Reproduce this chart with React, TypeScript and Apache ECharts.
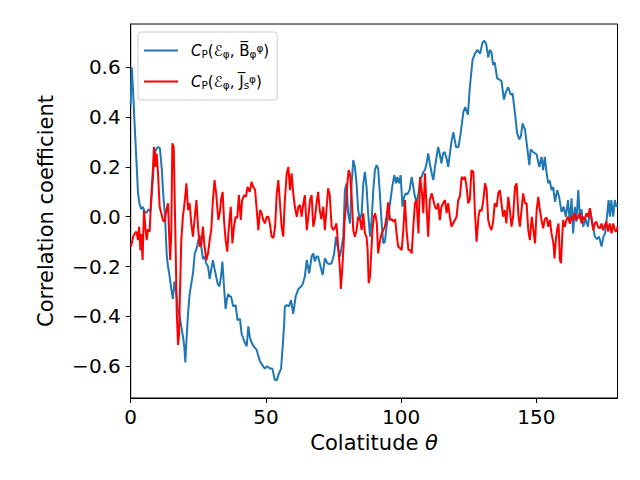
import React, { useEffect, useRef } from "react";
import * as echarts from "echarts";

const blueTheta = [0,0.4,0.9,1.5,2.1,2.7,3.3,3.9,4.5,5.2,5.8,6.6,7.3,7.9,8.4,9.0,9.6,10.2,10.8,11.5,12.0,12.7,13.3,13.8,14.4,15.0,15.6,16.2,16.8,17.4,18.1,18.7,19.3,19.8,20.2,20.7,21.2,21.8,22.4,23.0,23.7,24.3,24.9,25.5,26.1,26.7,27.3,28.0,28.6,29.2,29.8,30.4,31.0,31.6,32.2,32.8,33.4,33.9,34.5,35.1,35.6,36.1,36.6,37.1,37.9,38.8,39.5,40.4,41.0,42.0,42.9,43.5,44.0,44.5,45.4,46.6,47.2,47.8,48.6,49.6,50.5,51.5,52.4,53.3,54.0,54.8,55.6,56.2,56.7,57.0,57.7,58.5,59.3,60.1,61.0,62.0,63.0,63.6,64.4,65.1,66.0,66.9,67.5,68.1,68.7,69.3,70.2,71.0,71.8,72.7,73.5,74.3,75.2,75.9,76.5,77.4,78.0,78.6,79.2,79.8,80.4,81.1,81.7,82.3,82.9,83.5,84.1,84.8,85.4,86.0,86.6,87.2,87.8,88.5,89.1,89.7,90.3,90.9,91.5,92.2,92.8,93.4,94.0,94.6,95.2,95.9,96.7,97.5,98.1,98.6,99.2,99.8,100.5,101.1,101.7,102.3,103.1,103.9,104.5,105.1,105.7,106.4,107.0,107.6,108.2,108.8,109.4,110.0,110.6,111.3,111.9,112.5,113.1,113.7,114.3,114.9,115.5,116.1,116.8,117.4,118.1,118.6,119.3,120.3,121.2,122.0,123.0,123.7,124.7,125.4,126.4,127.3,128.2,129.2,130.0,130.6,131.4,132.2,132.8,133.4,134.0,134.6,135.5,136.5,137.1,138.0,138.7,139.6,140.5,141.2,142.1,142.9,143.7,144.3,144.9,145.8,146.6,147.4,147.9,148.8,150.1,151.1,151.9,152.5,153.1,153.8,154.4,155.0,155.6,156.2,156.9,157.7,158.4,159.3,160.1,160.9,161.7,162.4,163.0,163.6,164.2,164.8,165.5,166.1,166.7,167.3,168.2,169.1,169.8,171.0,171.6,172.4,173.2,174.1,174.8,175.4,176.1,176.7,177.2,177.7,178.4,179.0,179.6,180];
const blueCorr = [0.45,0.60,0.50,0.36,0.23,0.095,0.05,0.03,0.04,0.02,0.015,0.03,0.02,0.10,0.19,0.26,0.275,0.28,0.275,0.19,0.095,0.0,-0.15,-0.20,-0.24,-0.29,-0.33,-0.26,-0.30,-0.37,-0.40,-0.44,-0.48,-0.52,-0.585,-0.48,-0.39,-0.31,-0.27,-0.23,-0.147,-0.13,-0.10,-0.075,-0.12,-0.17,-0.16,-0.19,-0.20,-0.25,-0.21,-0.175,-0.21,-0.24,-0.27,-0.28,-0.24,-0.18,-0.28,-0.37,-0.33,-0.31,-0.32,-0.32,-0.36,-0.355,-0.415,-0.41,-0.47,-0.50,-0.52,-0.44,-0.48,-0.50,-0.52,-0.535,-0.56,-0.58,-0.595,-0.61,-0.60,-0.61,-0.61,-0.656,-0.656,-0.63,-0.61,-0.52,-0.44,-0.36,-0.355,-0.36,-0.335,-0.39,-0.32,-0.29,-0.28,-0.27,-0.24,-0.174,-0.227,-0.16,-0.147,-0.18,-0.16,-0.16,-0.2,-0.234,-0.167,-0.187,-0.19,-0.187,-0.15,-0.08,-0.12,-0.16,-0.12,-0.08,0.107,0.134,0.014,-0.027,0.134,0.228,0.2,0.134,0.027,-0.013,0.014,0.134,0.18,0.12,0.014,-0.08,-0.013,0.107,0.187,0.207,0.194,0.08,-0.027,-0.107,-0.1,-0.04,0.0,0.054,0.12,0.167,0.134,0.16,0.134,0.167,0.04,0.08,0.094,0.09,0.107,0.16,0.12,0.08,0.06,0.09,0.147,0.16,0.18,0.187,0.214,0.254,0.214,0.174,0.147,0.2,0.24,0.28,0.25,0.214,0.254,0.26,0.234,0.2,0.26,0.3,0.34,0.28,0.28,0.335,0.42,0.44,0.41,0.52,0.63,0.655,0.67,0.655,0.696,0.707,0.696,0.64,0.67,0.66,0.61,0.62,0.556,0.55,0.545,0.47,0.50,0.52,0.49,0.495,0.415,0.335,0.31,0.325,0.375,0.35,0.28,0.207,0.27,0.26,0.25,0.2,0.24,0.187,0.24,0.174,0.134,0.145,0.107,0.12,0.06,0.107,0.08,0.02,0.04,0.0,0.067,-0.027,0.074,-0.067,0.04,-0.02,0.107,-0.01,0.03,-0.04,-0.01,-0.04,0.03,-0.04,-0.08,-0.09,-0.08,-0.12,-0.08,-0.067,0.0,0.067,0.0,0.067,0.0,0.067,0.04,0.05];

const redTheta = [0,0.4,0.9,1.5,2.1,2.7,3.1,3.6,3.9,4.4,4.9,5.4,5.9,6.4,7.0,7.6,8.2,8.6,9.1,9.6,10.1,10.7,11.3,11.9,12.5,13.2,13.8,14.2,14.6,15.0,15.4,15.9,16.3,16.7,17.0,17.5,17.9,18.2,18.7,19.3,19.9,20.6,21.2,21.8,22.4,23.0,23.7,24.3,24.9,25.5,26.1,26.7,27.3,28.0,28.6,29.2,29.8,30.4,31.0,31.6,32.4,33.0,33.4,34.0,34.5,35.1,35.7,36.3,37.0,37.6,38.2,38.8,39.4,40.0,40.7,41.2,42.0,42.6,43.2,44.0,44.7,45.3,46.0,46.6,47.2,47.8,48.4,49.0,49.6,50.3,50.9,51.5,52.1,52.8,53.4,54.0,54.6,55.2,55.8,56.4,57.0,57.7,58.3,58.9,59.5,60.1,60.7,61.4,62.0,62.6,63.2,63.8,64.4,65.1,65.7,66.3,66.9,67.5,68.1,68.7,69.3,69.9,70.5,71.2,71.8,72.4,73.0,73.6,74.3,74.9,75.5,76.1,76.7,77.4,77.7,78.2,78.7,79.1,79.6,80.1,80.6,81.1,81.7,82.3,82.9,83.5,84.1,84.8,85.4,86.0,86.6,87.2,87.6,88.0,88.5,89.0,89.4,89.9,90.4,91.0,91.5,92.2,92.8,93.4,94.0,94.6,95.2,95.9,96.5,97.2,97.8,98.3,98.9,99.5,100.2,100.8,101.4,102.0,102.7,103.3,103.9,104.5,105.1,105.7,106.4,107.0,107.6,108.2,108.8,109.4,110.0,110.6,111.3,111.9,112.5,113.1,113.7,114.3,114.9,115.5,116.2,116.8,117.4,118.0,118.6,119.2,119.8,120.5,121.1,121.7,122.4,123.0,123.6,124.2,124.8,125.4,126.0,126.7,127.3,127.9,128.6,129.1,129.8,130.4,131.0,131.6,132.2,132.8,133.4,134.0,134.6,135.3,135.9,136.5,137.1,137.7,138.3,138.9,139.6,140.2,140.8,141.4,142.1,142.7,143.4,143.9,144.5,145.1,145.8,146.4,147.0,147.6,148.3,148.9,149.5,150.1,150.7,151.3,151.9,152.5,153.1,153.8,154.4,155.0,155.6,156.3,156.7,157.2,157.7,158.2,158.7,159.1,159.5,159.9,160.5,161.1,161.7,162.4,163.0,163.6,164.2,164.8,165.5,166.1,166.7,167.3,167.9,168.5,169.1,169.8,170.4,171.0,171.6,172.2,172.8,173.5,174.1,174.7,175.3,175.9,176.5,177.1,177.8,178.4,179.0,179.6,180];
const redCorr = [-0.12,-0.107,-0.08,-0.067,-0.06,-0.094,-0.04,-0.134,-0.07,-0.174,0.027,-0.04,-0.094,-0.05,-0.06,0.08,0.187,0.28,0.2,0.254,0.174,0.04,0.014,-0.013,-0.02,0.027,0.054,-0.067,-0.174,-0.067,0.295,0.28,0.054,-0.174,-0.375,-0.515,-0.47,-0.31,-0.094,0.0,0.054,0.134,0.027,0.054,-0.027,-0.08,0.0,0.067,-0.04,-0.12,-0.11,-0.04,-0.12,-0.174,-0.147,-0.094,-0.05,0.067,0.147,0.094,-0.013,0.02,0.067,0.1,-0.013,-0.094,-0.14,-0.04,0.04,-0.107,-0.04,0.0,-0.005,0.087,-0.013,0.067,0.087,0.08,0.12,0.1,0.14,0.12,0.107,0.027,-0.054,0.027,0.015,-0.013,-0.027,0.0,0.0,-0.03,-0.08,-0.085,-0.04,0.094,0.147,0.054,-0.04,-0.08,0.067,0.174,0.2,0.107,0.174,0.094,0.04,0.0,0.04,0.047,0.0,0.05,0.087,-0.054,0.0,0.067,0.087,-0.04,-0.01,0.054,0.1,0.027,-0.01,0.04,-0.054,0.03,0.114,0.087,-0.04,-0.054,-0.045,-0.027,-0.12,-0.214,-0.29,-0.214,-0.12,-0.013,0.04,0.134,0.187,0.17,0.08,-0.054,-0.08,-0.054,0.0,-0.013,-0.054,0.014,-0.067,-0.08,-0.134,-0.267,-0.24,-0.134,-0.054,0.0,0.014,-0.027,-0.147,-0.094,-0.067,-0.054,-0.04,0.0,0.058,-0.014,-0.01,-0.02,-0.01,-0.067,-0.12,-0.125,-0.134,-0.054,0.067,-0.054,-0.134,-0.134,-0.147,-0.04,0.054,0.067,-0.067,0.16,0.107,0.014,0.174,0.04,-0.08,0.067,0.094,0.067,0.04,0.03,0.054,-0.014,0.04,0.054,0.067,0.014,0.054,0.0,-0.04,-0.027,-0.014,0.0,0.067,0.08,0.16,0.15,0.16,0.12,0.054,0.07,0.187,0.18,0.014,-0.1,0.0,0.027,0.025,0.067,0.134,0.11,-0.013,-0.04,-0.054,-0.02,0.054,0.04,0.094,0.107,0.054,0.0,0.027,-0.027,0.08,0.027,-0.04,0.0,0.12,0.134,0.0,-0.04,0.027,0.094,0.054,0.054,-0.054,-0.094,0.0,-0.054,-0.107,0.027,0.08,0.027,-0.013,-0.047,-0.01,-0.003,-0.04,-0.013,-0.067,-0.107,-0.167,-0.094,-0.05,-0.027,-0.174,-0.187,-0.09,-0.013,-0.04,-0.013,0.0,-0.027,0.0,-0.013,0.014,-0.013,0.0,0.014,-0.027,0.0,-0.013,0.014,0.0,0.034,-0.013,-0.054,-0.027,-0.02,-0.04,-0.047,-0.027,-0.054,-0.034,-0.02,-0.06,-0.027,-0.067,-0.027,-0.054,-0.06,-0.04];

const xTicks = [0, 50, 100, 150];
const yTicks = [-0.6, -0.4, -0.2, 0.0, 0.2, 0.4, 0.6];

const FONT = "DejaVu Sans";

export default function App() {
  const ref = useRef<HTMLDivElement>(null);
  useEffect(() => {
    document.body.style.margin = "0";
    const chart = echarts.init(ref.current!, null, { renderer: "svg" });
    const legendLabels: Record<string, string> = {
      B: "{c|C}{sub|P}{t|(ℰ}{sub|φ}{t|, B̅}{sub|φ}{sup|φ}{t|)}",
      J: "{c|C}{sub|P}{t|(ℰ}{sub|φ}{t|, J̅}{sub|s}{sup|φ}{t|)}",
    };
    chart.setOption({
      animation: false,
      backgroundColor: "#ffffff",
      grid: {
        left: 130.7,
        right: 22.5,
        top: 24,
        bottom: 82,
        show: true,
        borderColor: "#000000",
        borderWidth: 1,
        backgroundColor: "transparent",
      },
      legend: {
        orient: "vertical",
        left: 138,
        top: 32,
        icon: "rect",
        itemWidth: 34,
        itemHeight: 2,
        itemGap: 14,
        padding: [10, 8, 10, 6],
        borderColor: "#cccccc",
        borderWidth: 1,
        borderRadius: 3,
        backgroundColor: "rgba(255,255,255,0.8)",
        formatter: (name: string) => legendLabels[name],
        textStyle: {
          fontFamily: FONT,
          color: "#000",
          padding: [0, 0, 0, 8],
          rich: {
            c: { fontFamily: FONT, fontStyle: "italic", fontSize: 15, color: "#000" },
            t: { fontFamily: FONT, fontSize: 15, color: "#000" },
            sub: { fontFamily: FONT, fontSize: 10.5, color: "#000", verticalAlign: "bottom", padding: [6, 0, 0, 0] },
            sup: { fontFamily: FONT, fontSize: 10.5, color: "#000", verticalAlign: "top", padding: [0, 0, 6, 0] },
          },
        },
        data: ["B", "J"],
      },
      xAxis: {
        type: "value",
        min: 0,
        max: 180,
        name: "Colatitude {i|θ}",
        nameLocation: "middle",
        nameGap: 34,
        nameTextStyle: {
          fontFamily: FONT,
          fontSize: 21,
          color: "#000",
          rich: { i: { fontFamily: FONT, fontSize: 21, fontStyle: "italic", color: "#000" } },
        },
        axisLine: { show: true, onZero: false, lineStyle: { color: "#000", width: 1 } },
        axisTick: { show: true, customValues: xTicks, length: 5, lineStyle: { color: "#000" } },
        axisLabel: {
          customValues: xTicks,
          fontFamily: FONT,
          fontSize: 20,
          color: "#000",
          margin: 9,
        },
        splitLine: { show: false },
      },
      yAxis: {
        type: "value",
        min: -0.728,
        max: 0.774,
        name: "Correlation coefficient",
        nameLocation: "middle",
        nameRotate: 90,
        nameGap: 74,
        nameTextStyle: { fontFamily: FONT, fontSize: 21, color: "#000" },
        axisLine: { show: true, onZero: false, lineStyle: { color: "#000", width: 1 } },
        axisTick: { show: true, customValues: yTicks, length: 5, lineStyle: { color: "#000" } },
        axisLabel: {
          customValues: yTicks,
          fontFamily: FONT,
          fontSize: 20,
          color: "#000",
          margin: 10,
          formatter: (v: number) => (v < 0 ? "\u2212" + Math.abs(v).toFixed(1) : v.toFixed(1)),
        },
        splitLine: { show: false },
      },
      series: [
        {
          name: "B",
          type: "line",
          data: blueTheta.map((t, i) => [t, blueCorr[i]]),
          showSymbol: false,
          lineStyle: { color: "#1f77b4", width: 2 },
          itemStyle: { color: "#1f77b4" },
          z: 2,
        },
        {
          name: "J",
          type: "line",
          data: redTheta.map((t, i) => [t, redCorr[i]]),
          showSymbol: false,
          lineStyle: { color: "#ff0000", width: 2 },
          itemStyle: { color: "#ff0000" },
          z: 3,
        },
      ],
    });
    return () => chart.dispose();
  }, []);
  return <div ref={ref} style={{ width: 640, height: 480 }} />;
}
